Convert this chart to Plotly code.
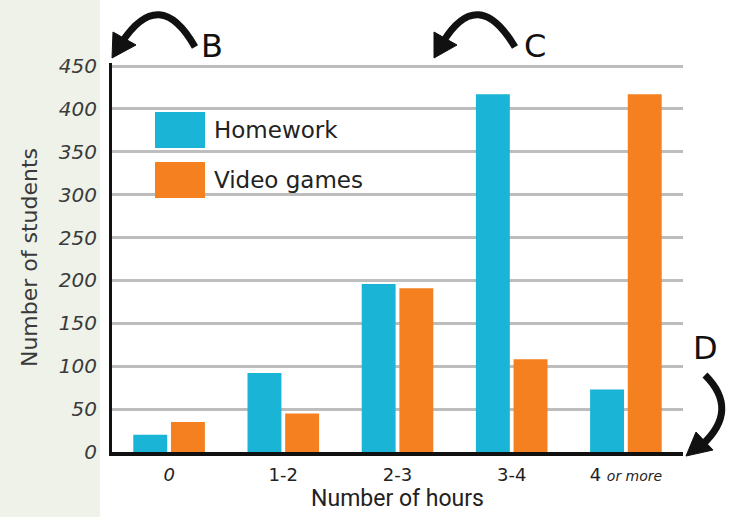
import plotly.graph_objects as go

categories = ["0", "1-2", "2-3", "3-4", "4 or more"]
tick_labels = ["<i>0</i>", "1-2", "2-3", "3-4",
               "4 <i><span style='font-size:14px'>or more</span></i>"]
series_names = ["Homework", "Video games"]
homework = [20, 92, 196, 417, 73]
video_games = [35, 45, 191, 108, 417]
colors = ["#19B4D6", "#F4801F"]

W, H = 739, 517
L, R, T, B = 112, 56, 63, 65
PW, PH = W - L - R, H - T - B


def px(x):
    return (x - L) / PW


def py(y):
    return (H - B - y) / PH


fig = go.Figure()
for name, vals, col in zip(series_names, [homework, video_games], colors):
    fig.add_trace(go.Bar(x=categories, y=vals, name=name, marker_color=col,
                         marker_line_width=0, showlegend=False))

shapes = []
annotations = []

# white paper behind plot area
shapes.append(dict(type="rect", xref="paper", yref="paper", x0=px(100), x1=px(W),
                   y0=py(H), y1=py(0), fillcolor="white", line_width=0, layer="below"))

# custom legend
for i, (name, col) in enumerate(zip(series_names, colors)):
    yc = 130 + i * 50
    shapes.append(dict(type="rect", xref="paper", yref="paper",
                       x0=px(155), x1=px(205), y0=py(yc + 18), y1=py(yc - 18),
                       fillcolor=col, line_width=0))
    annotations.append(dict(text=name, xref="paper", yref="paper", x=px(212), y=py(yc),
                            xanchor="left", yanchor="middle", showarrow=False,
                            font=dict(family="DejaVu Sans", size=23, color="#222")))


def arc_path(p0, c, p1):
    return "M {} {} Q {} {} {} {}".format(px(p0[0]), py(p0[1]), px(c[0]), py(c[1]),
                                         px(p1[0]), py(p1[1]))


def head(tip, a, b):
    return "M {} {} L {} {} L {} {} Z".format(px(tip[0]), py(tip[1]), px(a[0]), py(a[1]),
                                              px(b[0]), py(b[1]))


# arrow B
shapes.append(dict(type="path", xref="paper", yref="paper",
                   path=arc_path((195, 47), (160, -15), (122, 42)),
                   line=dict(color="#111", width=7)))
shapes.append(dict(type="path", xref="paper", yref="paper",
                   path=head((112, 58), (113, 32), (136, 45)),
                   fillcolor="#111", line=dict(color="#111", width=1)))
# arrow C
shapes.append(dict(type="path", xref="paper", yref="paper",
                   path=arc_path((515, 47), (478, -15), (443, 42)),
                   line=dict(color="#111", width=7)))
shapes.append(dict(type="path", xref="paper", yref="paper",
                   path=head((434, 58), (434, 32), (457, 45)),
                   fillcolor="#111", line=dict(color="#111", width=1)))
# arrow D
shapes.append(dict(type="path", xref="paper", yref="paper",
                   path=arc_path((705, 375), (740, 410), (702, 445)),
                   line=dict(color="#111", width=7)))
shapes.append(dict(type="path", xref="paper", yref="paper",
                   path=head((686, 456), (696, 432), (713, 450)),
                   fillcolor="#111", line=dict(color="#111", width=1)))

for letter, x, y in [("B", 212, 46), ("C", 535, 46), ("D", 705, 348)]:
    annotations.append(dict(text=letter, xref="paper", yref="paper", x=px(x), y=py(y),
                            xanchor="center", yanchor="middle", showarrow=False,
                            font=dict(family="DejaVu Sans", size=32, color="#111")))

fig.update_layout(
    width=W, height=H,
    margin=dict(l=L, r=R, t=T, b=B, pad=0),
    paper_bgcolor="#EFF2E8",
    plot_bgcolor="white",
    barmode="group",
    bargap=0.34,
    bargroupgap=0.1,
    shapes=shapes,
    annotations=annotations,
    xaxis=dict(
        tickvals=categories, ticktext=tick_labels,
        tickfont=dict(family="DejaVu Sans", size=18, color="#222"),
        ticks="", showgrid=False, showline=True, linecolor="#111", linewidth=4,
        ticklabelstandoff=3,
        title=dict(text="Number of hours", standoff=0,
                   font=dict(family="Liberation Sans Narrow, Roboto", size=23, color="#222")),
    ),
    yaxis=dict(
        range=[0, 453.5], tickvals=[0, 50, 100, 150, 200, 250, 300, 350, 400, 450], ticks="",
        tickfont=dict(family="DejaVu Sans", size=20, color="#3a3a3a", style="italic"),
        showgrid=True, gridcolor="#BDBDBD", gridwidth=3,
        showline=True, linecolor="#111", linewidth=3,
        zeroline=False, ticklabelstandoff=8,
        title=dict(text="Number of students", standoff=16,
                   font=dict(family="DejaVu Sans", size=22, color="#3a3a3a")),
    ),
)

fig.write_html("out.html", config={"displayModeBar": False},
               post_script="document.body.style.margin='0';document.body.style.overflow='hidden';")
